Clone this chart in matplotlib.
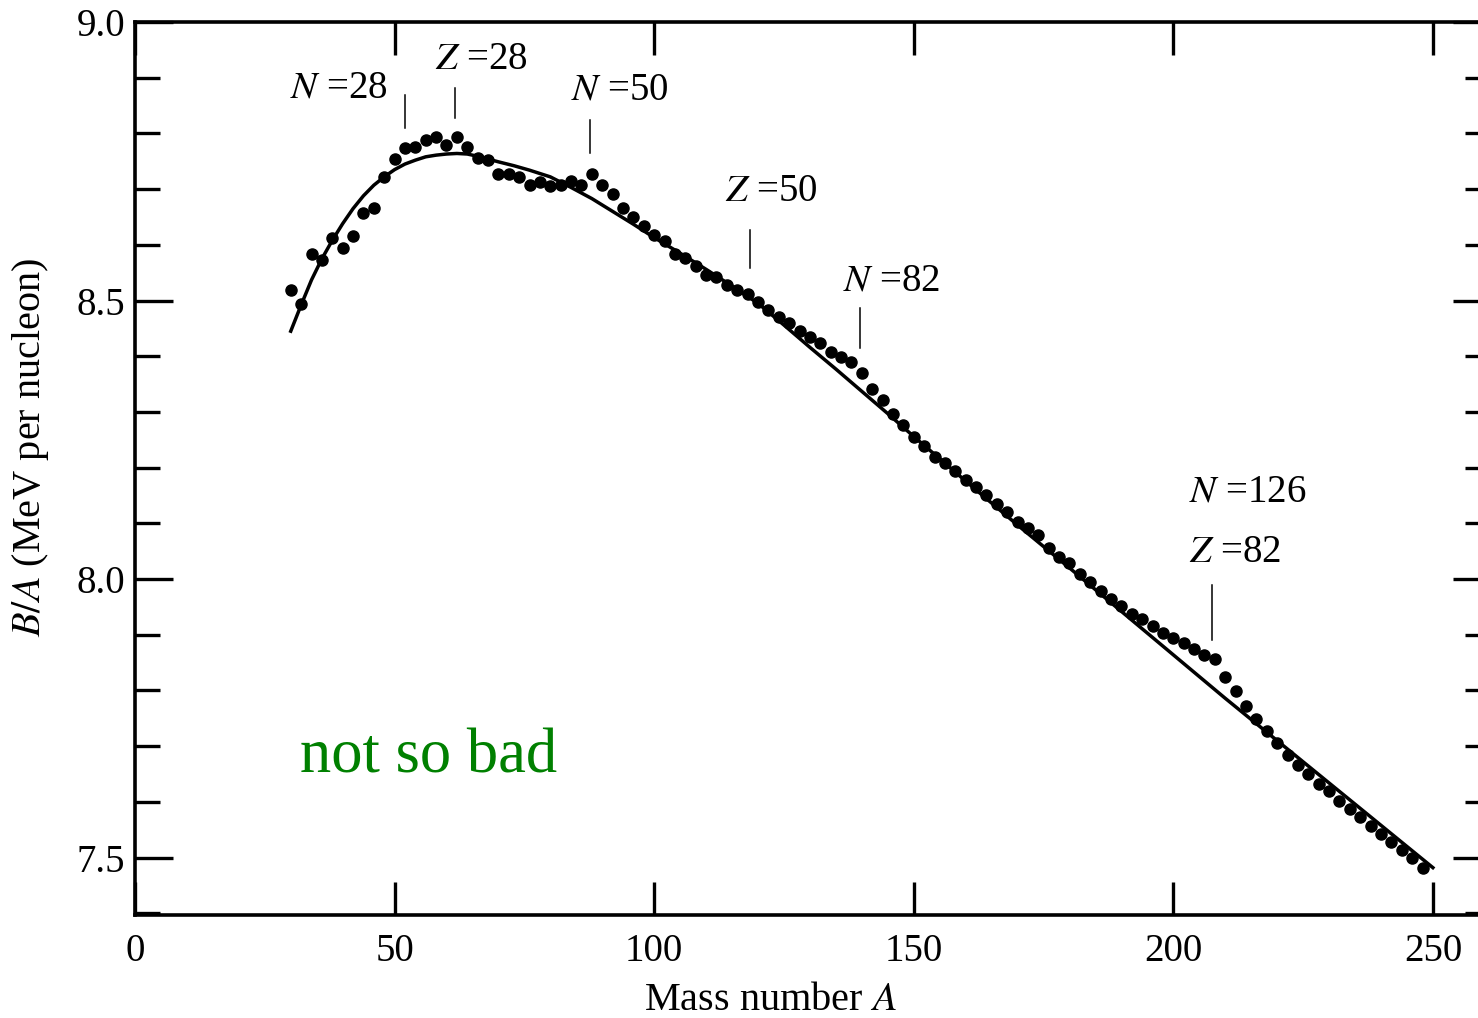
import matplotlib
matplotlib.use("Agg")
import matplotlib.pyplot as plt
from matplotlib.ticker import MultipleLocator

plt.rcParams['font.family'] = ['Liberation Serif', 'DejaVu Serif']
plt.rcParams['mathtext.fontset'] = 'stix'

# measured binding energy per nucleon (dots)
mass_number = [30, 32, 34, 36, 38, 40, 42, 44, 46, 48,
               50, 52, 54, 56, 58, 60, 62, 64, 66, 68,
               70, 72, 74, 76, 78, 80, 82, 84, 86, 88,
               90, 92, 94, 96, 98, 100, 102, 104, 106, 108,
               110, 112, 114, 116, 118, 120, 122, 124, 126, 128,
               130, 132, 134, 136, 138, 140, 142, 144, 146, 148,
               150, 152, 154, 156, 158, 160, 162, 164, 166, 168,
               170, 172, 174, 176, 178, 180, 182, 184, 186, 188,
               190, 192, 194, 196, 198, 200, 202, 204, 206, 208,
               210, 212, 214, 216, 218, 220, 222, 224, 226, 228,
               230, 232, 234, 236, 238, 240, 242, 244, 246, 248]
binding = [8.519, 8.494, 8.583, 8.573, 8.613, 8.594, 8.615, 8.657, 8.667, 8.722,
           8.754, 8.774, 8.776, 8.788, 8.793, 8.779, 8.794, 8.775, 8.755, 8.752,
           8.727, 8.727, 8.722, 8.707, 8.713, 8.706, 8.707, 8.715, 8.707, 8.728,
           8.707, 8.692, 8.666, 8.650, 8.633, 8.618, 8.606, 8.583, 8.576, 8.562,
           8.546, 8.542, 8.528, 8.519, 8.512, 8.498, 8.483, 8.471, 8.459, 8.446,
           8.435, 8.424, 8.408, 8.399, 8.390, 8.370, 8.342, 8.322, 8.297, 8.276,
           8.255, 8.238, 8.220, 8.208, 8.194, 8.178, 8.166, 8.151, 8.135, 8.121,
           8.103, 8.091, 8.079, 8.055, 8.040, 8.028, 8.010, 7.995, 7.979, 7.965,
           7.951, 7.938, 7.928, 7.916, 7.903, 7.895, 7.886, 7.875, 7.864, 7.856,
           7.825, 7.799, 7.773, 7.748, 7.727, 7.705, 7.685, 7.667, 7.651, 7.633,
           7.620, 7.601, 7.588, 7.573, 7.557, 7.543, 7.528, 7.513, 7.499, 7.482]

# smooth curve
fit_A = [30, 32, 34, 36, 38, 40, 42, 44, 46, 48, 50, 52, 54, 56, 58, 60, 62, 64,
         66, 68, 70, 73, 76, 80, 84, 88, 92, 96, 100, 105, 110, 115, 120, 125,
         130, 135, 140, 145, 150, 160, 170, 180, 190, 200, 210, 220, 230, 240, 250]
fit_BA = [8.445, 8.492, 8.537, 8.575, 8.608, 8.638, 8.665, 8.688, 8.707, 8.722,
          8.735, 8.745, 8.752, 8.758, 8.761, 8.763, 8.764, 8.763, 8.759, 8.754,
          8.749, 8.742, 8.734, 8.722, 8.703, 8.683, 8.660, 8.637, 8.613, 8.585,
          8.556, 8.526, 8.495, 8.456, 8.416, 8.377, 8.337, 8.297, 8.256, 8.176,
          8.097, 8.020, 7.942, 7.864, 7.786, 7.710, 7.634, 7.558, 7.482]

# magic-number labels: text, text position, marker line position
magic_text = [r'$N$ =28', r'$Z$ =28', r'$N$ =50', r'$Z$ =50', r'$N$ =82', r'$N$ =126', r'$Z$ =82']
magic_text_xy = [(39.3, 8.882), (66.7, 8.932), (93.3, 8.878), (122.5, 8.695),
                 (145.7, 8.535), (214.3, 8.156), (211.9, 8.047)]
magic_line_A = [52.0, 61.7, 87.7, 118.5, 139.7, 207.5]
magic_line_y = [(8.810, 8.869), (8.828, 8.882), (8.765, 8.824), (8.558, 8.627),
                (8.415, 8.487), (7.890, 7.989)]

W, H = 1478, 1018
fig = plt.figure(figsize=(W / 100, H / 100), dpi=100)
ax = fig.add_axes([135 / W, (H - 915) / H, 1355 / W, 893 / H])

ax.plot(fit_A, fit_BA, color='black', lw=2.5, zorder=2)
ax.plot(mass_number, binding, 'o', color='black', markersize=8, zorder=3)

for a, (y0, y1) in zip(magic_line_A, magic_line_y):
    ax.plot([a, a], [y0, y1], color='black', lw=1.1)
for t, (x, y) in zip(magic_text, magic_text_xy):
    ax.text(x, y, t, fontsize=28, ha='center', va='center')

ax.text(31.8, 7.653, 'not so bad', color='#008000', fontsize=45, va='baseline')

ax.set_xlim(0, 261)
ax.set_ylim(7.397, 9.0)
ax.xaxis.set_major_locator(MultipleLocator(50))
ax.yaxis.set_minor_locator(MultipleLocator(0.1))
ax.set_yticks([9.0, 8.5, 8.0, 7.5])
ax.set_yticklabels(['9.0', '8.5', '8.0', '7.5'])

ax.tick_params(axis='x', which='major', direction='in', length=24, width=2.4,
               top=True, bottom=True, labelsize=28, pad=13)
ax.tick_params(axis='y', which='major', direction='in', length=27, width=2.4,
               left=True, right=True, labelsize=28, pad=7)
ax.tick_params(axis='y', which='minor', direction='in', length=18, width=2.4,
               left=True, right=True)
ax.tick_params(axis='x', which='minor', bottom=False, top=False)

for side in ['left', 'bottom', 'top']:
    ax.spines[side].set_linewidth(2.6)
ax.spines['right'].set_visible(False)

fig.text(31 / W, 1 - 447 / H, r'$B/A$ (MeV per nucleon)', rotation=90,
         fontsize=29, ha='center', va='center')
fig.text(770 / W, 1 - 1000 / H, r'Mass number $A$', fontsize=29,
         ha='center', va='center')

fig.savefig('out.png', dpi=100)
